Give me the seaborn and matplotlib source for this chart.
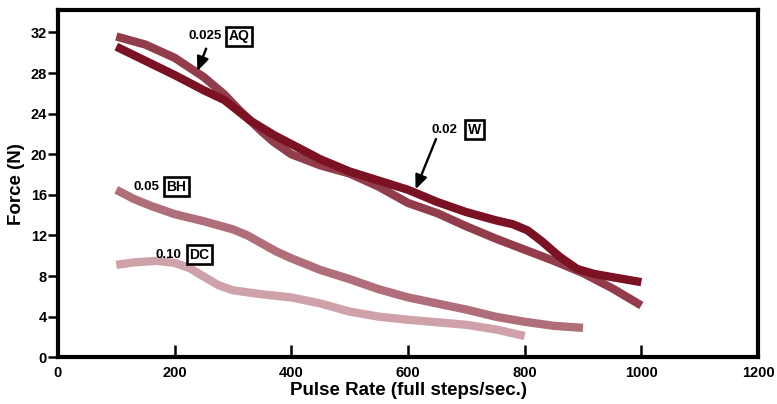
import matplotlib
matplotlib.use("Agg")
import matplotlib.pyplot as plt
import seaborn as sns

# Datos (fuerza en N vs. tasa de pulsos)
pulsos_w = [100, 150, 200, 250, 285, 330, 370, 400, 450, 500, 550, 600, 650, 700, 750,
            780, 805, 830, 860, 890, 920, 950, 1000]
fuerza_w = [30.6, 29.2, 27.8, 26.3, 25.35, 23.3, 21.9, 21.0, 19.5, 18.3, 17.4, 16.5, 15.3, 14.3, 13.5,
            13.1, 12.5, 11.4, 9.9, 8.7, 8.2, 7.9, 7.4]

pulsos_aq = [100, 150, 200, 250, 285, 310, 330, 350, 370, 400, 450, 500, 550, 600, 650,
             700, 750, 800, 850, 900, 950, 1000]
fuerza_aq = [31.6, 30.8, 29.5, 27.6, 25.9, 24.4, 23.3, 22.2, 21.2, 20.0, 18.9, 18.1, 16.8, 15.2, 14.2,
             12.9, 11.7, 10.6, 9.5, 8.3, 6.8, 5.1]

pulsos_bh = [100, 130, 160, 200, 250, 300, 325, 350, 375, 400, 450, 500, 550, 600, 650,
             700, 750, 800, 850, 900]
fuerza_bh = [16.5, 15.6, 14.9, 14.1, 13.4, 12.6, 12.0, 11.2, 10.4, 9.75, 8.6, 7.7, 6.7, 5.9, 5.3,
             4.7, 4.0, 3.5, 3.1, 2.9]

pulsos_dc = [100, 130, 170, 200, 225, 250, 275, 300, 350, 400, 450, 500, 550, 600, 650,
             700, 750, 800]
fuerza_dc = [9.1, 9.35, 9.5, 9.3, 8.8, 7.95, 7.1, 6.6, 6.2, 5.9, 5.3, 4.5, 4.0, 3.7, 3.45,
             3.2, 2.75, 2.1]

x_ticks = [0, 200, 400, 600, 800, 1000, 1200]
y_ticks = [0, 4, 8, 12, 16, 20, 24, 28, 32]

COLOR_W = "#7B1224"
COLOR_AQ = "#923D4C"
COLOR_BH = "#B06F78"
COLOR_DC = "#CFA2A9"

sns.set_theme(style="white")
plt.rcParams["font.family"] = ["Liberation Sans", "DejaVu Sans"]
plt.rcParams["font.weight"] = "bold"

fig = plt.figure(figsize=(7.77, 4.04), dpi=100)
ax = fig.add_axes([0.0746, 0.1156, 0.9010, 0.8594])

lw = 6.0
sns.lineplot(x=pulsos_dc, y=fuerza_dc, ax=ax, color=COLOR_DC, linewidth=lw)
sns.lineplot(x=pulsos_bh, y=fuerza_bh, ax=ax, color=COLOR_BH, linewidth=lw)
sns.lineplot(x=pulsos_aq, y=fuerza_aq, ax=ax, color=COLOR_AQ, linewidth=lw)
sns.lineplot(x=pulsos_w, y=fuerza_w, ax=ax, color=COLOR_W, linewidth=lw)
for ln in ax.get_lines():
    ln.set_solid_capstyle("butt")
    ln.set_solid_joinstyle("round")

ax.set_xlim(0, 1200)
ax.set_ylim(0, 34.2)
ax.set_xticks(x_ticks)
ax.set_yticks(y_ticks)
ax.tick_params(axis="x", direction="in", length=9, width=1.8, pad=6,
               labelsize=10.5, colors="black", bottom=True)
ax.tick_params(axis="y", direction="out", length=7, width=1.8, pad=1,
               labelsize=10.5, colors="black", left=True)
for lab in ax.get_xticklabels() + ax.get_yticklabels():
    lab.set_fontweight("bold")

for s in ax.spines.values():
    s.set_color("black")
    s.set_linewidth(3.0)

ax.set_xlabel("Pulse Rate (full steps/sec.)", fontsize=13.5, fontweight="bold",
              color="black", labelpad=2)
ax.set_ylabel("Force (N)", fontsize=13.5, fontweight="bold", color="black", labelpad=4)

# Etiquetas de las curvas
caja = dict(boxstyle="square,pad=0.18", facecolor="white", edgecolor="black", linewidth=1.9)
etiquetas = [
    ("0.025", "AQ", 280, 311, 31.6),
    ("0.02", "W", 685, 714, 22.4),
    ("0.05", "BH", 173, 203, 16.8),
    ("0.10", "DC", 212, 242, 10.1),
]
for num, letra, x_num, x_box, y in etiquetas:
    ax.text(x_num, y, num, ha="right", va="center", fontsize=9.5, fontweight="bold", color="black")
    ax.text(x_box, y, letra, ha="center", va="center", fontsize=10, fontweight="bold",
            color="black", bbox=caja)

flecha = dict(arrowstyle="-|>,head_length=0.7,head_width=0.3", color="black", lw=1.7,
              shrinkA=0, shrinkB=0)
ax.annotate("", xy=(239, 28.2), xytext=(254, 30.4), arrowprops=flecha)
ax.annotate("", xy=(613, 16.55), xytext=(648, 21.5), arrowprops=flecha)

fig.savefig("out.png", dpi=100)
